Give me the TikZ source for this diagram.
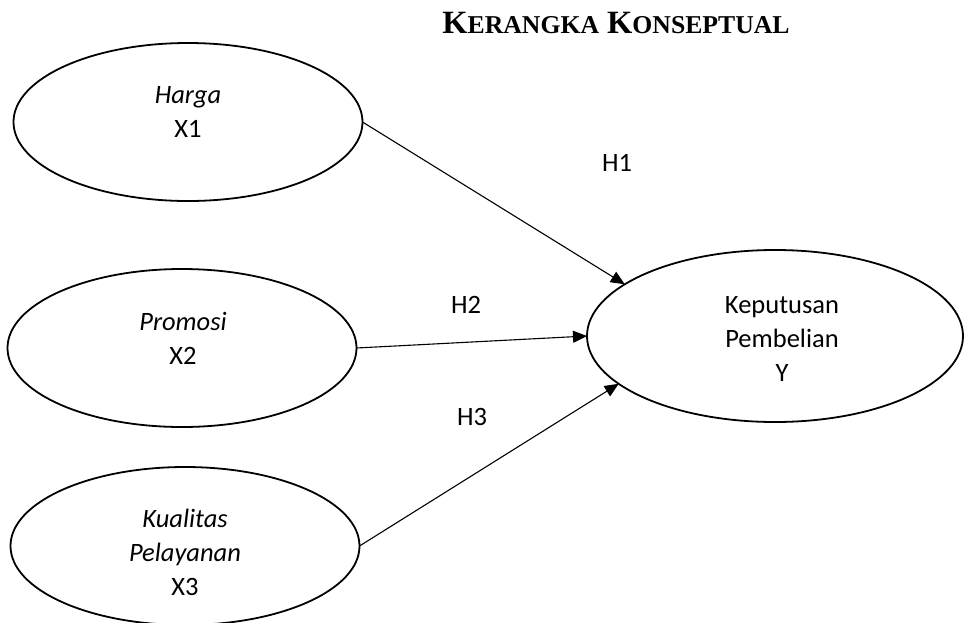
\documentclass[tikz,border=0pt]{standalone}
\usepackage{fontspec}
\setmainfont{Carlito}
\newfontfamily\titlefont{Liberation Serif}
\usetikzlibrary{arrows.meta,shapes.geometric}
\tikzset{>/.tip={Triangle[length=14pt,width=12pt]},
  var/.style={draw,ellipse,line width=1.8pt,minimum width=349pt,minimum height=158pt,inner sep=0pt,outer sep=0pt},
  txt/.style={align=center,font=\fontsize{26.5}{34}\selectfont,inner sep=0pt},
  hyp/.style={font=\fontsize{26.5}{30}\selectfont,inner sep=0pt},
  link/.style={->,line width=1.1pt}}
\newcommand{\capsmall}[1]{{\fontsize{25.7}{30}\selectfont #1}}

\begin{document}
\begin{tikzpicture}[x=1pt,y=-1pt]
\useasboundingbox (0,0) rectangle (967,622);
\node[font=\titlefont\bfseries\fontsize{32.5}{36}\selectfont,inner sep=0pt] (title) at (616,23)
  {K\capsmall{ERANGKA} K\capsmall{ONSEPTUAL}};
% variabel bebas
\node[var] (x1) at (188,122) {};
\node[var] (x2) at (182,348) {};
\node[var] (x3) at (185,546) {};
% variabel terikat
\node[var,minimum width=376pt,minimum height=172pt] (y) at (775,336) {};
\node[txt] (x1t) at (188,112) {\textit{Harga}\\X1};
\node[txt] (x2t) at (183,338) {\textit{Promosi}\\X2};
\node[txt] (x3t) at (185,552) {\textit{Kualitas}\\\textit{Pelayanan}\\X3};
\node[txt] (yt) at (782,339) {Keputusan\\Pembelian\\Y};
% hipotesis
\node[hyp] (h1) at (617,163) {H1};
\node[hyp] (h2) at (466,305) {H2};
\node[hyp] (h3) at (472,417) {H3};
\draw[link] (x1.east) -- (y.161);
\draw[link] (x2.east) -- (y.west);
\draw[link] (x3.east) -- (y.197);
\end{tikzpicture}
\end{document}
